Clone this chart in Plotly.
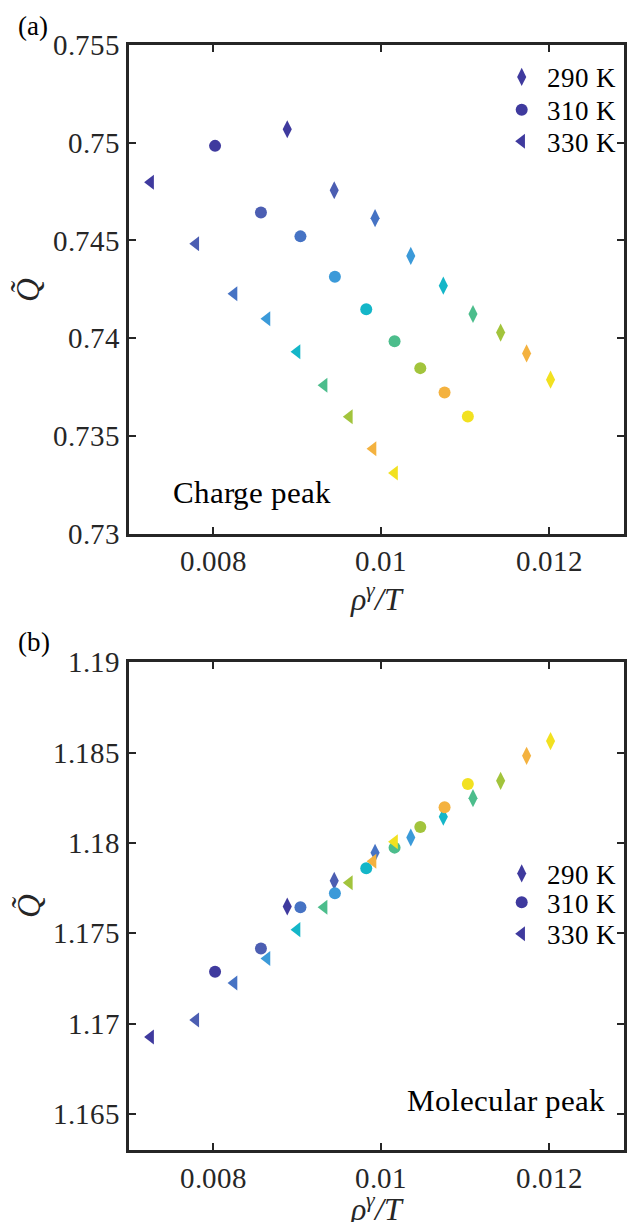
import base64
import glob
import json
import os

import plotly.graph_objects as go

# x values: rho^gamma / T for each temperature (9 states each)
x_290 = [0.008883, 0.009442, 0.009928, 0.010353, 0.01074, 0.011093, 0.011422, 0.011731, 0.012016]
x_310 = [0.008024, 0.00857, 0.00904, 0.00945, 0.009823, 0.01016, 0.010466, 0.010755, 0.011032]
x_330 = [0.007257, 0.007795, 0.00825, 0.008642, 0.0090, 0.009322, 0.009622, 0.009904, 0.01016]

# (a) Charge peak
qa_290 = [0.75069, 0.74757, 0.74614, 0.74421, 0.74269, 0.74124, 0.74029, 0.73922, 0.73788]
qa_310 = [0.74984, 0.74643, 0.74521, 0.74314, 0.74148, 0.73984, 0.73847, 0.73722, 0.73600]
qa_330 = [0.74798, 0.74483, 0.74228, 0.74100, 0.73931, 0.73759, 0.73598, 0.73434, 0.73310]

# (b) Molecular peak
qb_290 = [1.17648, 1.17790, 1.17945, 1.18030, 1.18145, 1.18248, 1.18344, 1.18482, 1.18564]
qb_310 = [1.17287, 1.17415, 1.17644, 1.17722, 1.17860, 1.17974, 1.18088, 1.18197, 1.18326]
qb_330 = [1.16925, 1.17020, 1.17224, 1.17360, 1.17520, 1.17644, 1.17779, 1.17899, 1.18006]

labels = ["290 K", "310 K", "330 K"]
point_colors = ["#3F3A9E", "#4C5EB2", "#4673C4", "#3B9AD9", "#14B6C8",
                "#4CBD8C", "#A2C43C", "#F4B23F", "#F2E120"]

x_ticks = [0.008, 0.01, 0.012]
x_ticktext = ["0.008", "0.01", "0.012"]
ya_ticks = [0.73, 0.735, 0.74, 0.745, 0.75, 0.755]
ya_ticktext = ["0.73", "0.735", "0.74", "0.745", "0.75", "0.755"]
yb_ticks = [1.165, 1.17, 1.175, 1.18, 1.185, 1.19]
yb_ticktext = ["1.165", "1.17", "1.175", "1.18", "1.185", "1.19"]


# --- embed the locally installed Liberation Serif so the page does not depend on font lookup ---
def find_font(name):
    for root in ["/usr/share/fonts", "/usr/local/share/fonts", os.path.expanduser("~/.fonts")]:
        hits = glob.glob(os.path.join(root, "**", name), recursive=True)
        if hits:
            return hits[0]
    return None


faces = []
for fname, style in [("LiberationSerif-Regular.ttf", "normal"), ("LiberationSerif-Italic.ttf", "italic")]:
    path = find_font(fname)
    if path:
        with open(path, "rb") as fh:
            b64 = base64.b64encode(fh.read()).decode("ascii")
        faces.append("@font-face{font-family:'EmbSerif';font-style:%s;font-weight:400;"
                     "src:url(data:font/ttf;base64,%s) format('truetype');}" % (style, b64))
font_css = "".join(faces)

FONT = "EmbSerif, Liberation Serif, Tinos, Times New Roman, serif"
AX = "#262626"

W, H = 627, 1222
ML, MR, MT, MB = 129, 3, 45, 72
PH = H - MT - MB  # plot area height in px


def py(p):
    """pixel row -> paper y fraction"""
    return (H - MB - p) / PH


def px(p):
    return (p - ML) / (W - ML - MR)


symbols = ["diamond-tall", "circle", "triangle-left"]
sizes = [13, 12, 13]

fig = go.Figure()

legend_rows_a = [77.4, 110.2, 141.7]
legend_rows_b = [873.9, 902.7, 934.2]
legend_names_a = ["legend", "legend2", "legend3"]
legend_names_b = ["legend4", "legend5", "legend6"]

for xs, ys, lab, sym, sz, lg in zip([x_290, x_310, x_330], [qa_290, qa_310, qa_330], labels,
                                    symbols, sizes, legend_names_a):
    fig.add_trace(go.Scatter(x=xs, y=ys, mode="markers", name=lab,
                             marker=dict(symbol=sym, size=sz, color=point_colors, line=dict(width=0)),
                             xaxis="x", yaxis="y", legend=lg))

for xs, ys, lab, sym, sz, lg in zip([x_290, x_310, x_330], [qb_290, qb_310, qb_330], labels,
                                    symbols, sizes, legend_names_b):
    fig.add_trace(go.Scatter(x=xs, y=ys, mode="markers", name=lab,
                             marker=dict(symbol=sym, size=sz, color=point_colors, line=dict(width=0)),
                             xaxis="x2", yaxis="y2", legend=lg))


def xaxis(anchor):
    return dict(range=[0.007, 0.01289], tickvals=x_ticks, ticktext=x_ticktext,
                ticks="inside", ticklen=7, tickwidth=2, tickcolor=AX,
                showline=True, linecolor=AX, linewidth=2.5, mirror="allticks",
                showgrid=False, zeroline=False, anchor=anchor, automargin=False,
                tickfont=dict(family=FONT, size=29, color=AX))


def yaxis(rng, tv, tt, dom, anchor):
    return dict(range=rng, tickvals=tv, ticktext=tt, domain=dom, anchor=anchor,
                ticks="inside", ticklen=7, tickwidth=2, tickcolor=AX,
                showline=True, linecolor=AX, linewidth=2.5, mirror="allticks",
                showgrid=False, zeroline=False, automargin=False,
                tickfont=dict(family=FONT, size=29, color=AX))


def legend_at(row):
    return dict(x=px(496.7), y=py(row), xanchor="left", yanchor="middle",
                font=dict(family=FONT, size=27, color="black"),
                bgcolor="rgba(0,0,0,0)", itemwidth=40)


xtitle = "<i>ρ</i><sup><i>γ</i></sup><i>/T</i>"
ytitle = "<i>Q̃</i>"

layout_legends = {}
for name, row in zip(legend_names_a + legend_names_b, legend_rows_a + legend_rows_b):
    layout_legends[name] = legend_at(row)

fig.update_layout(
    width=W, height=H,
    margin=dict(l=ML, r=MR, t=MT, b=MB, autoexpand=False),
    paper_bgcolor="white", plot_bgcolor="white",
    font=dict(family=FONT),
    showlegend=True,
    xaxis=xaxis("y"),
    xaxis2=xaxis("y2"),
    yaxis=yaxis([0.73, 0.755], ya_ticks, ya_ticktext, [py(533.7), 1.0], "x"),
    yaxis2=yaxis([1.163, 1.19], yb_ticks, yb_ticktext, [0.0, py(662.3)], "x2"),
    annotations=[
        dict(text="(a)", xref="paper", yref="paper", x=px(32.5), y=py(26),
             xanchor="center", yanchor="middle", showarrow=False,
             font=dict(family=FONT, size=27, color="black")),
        dict(text="(b)", xref="paper", yref="paper", x=px(33.5), y=py(642),
             xanchor="center", yanchor="middle", showarrow=False,
             font=dict(family=FONT, size=27, color="black")),
        dict(text="Charge peak", xref="paper", yref="paper", x=px(171.8), y=py(492),
             xanchor="left", yanchor="middle", showarrow=False,
             font=dict(family=FONT, size=31, color="black")),
        dict(text="Molecular peak", xref="paper", yref="paper", x=px(407), y=py(1100),
             xanchor="left", yanchor="middle", showarrow=False,
             font=dict(family=FONT, size=31, color="black")),
        dict(text=xtitle, xref="paper", yref="paper", x=px(376.5), y=py(597),
             xanchor="center", yanchor="middle", showarrow=False,
             font=dict(family=FONT, size=32, color=AX)),
        dict(text=xtitle, xref="paper", yref="paper", x=px(376.5), y=py(1207),
             xanchor="center", yanchor="middle", showarrow=False,
             font=dict(family=FONT, size=32, color=AX)),
        dict(text=ytitle, xref="paper", yref="paper", x=px(28), y=py(289.5), textangle=-90,
             xanchor="center", yanchor="middle", showarrow=False,
             font=dict(family=FONT, size=33, color=AX)),
        dict(text=ytitle, xref="paper", yref="paper", x=px(28), y=py(906), textangle=-90,
             xanchor="center", yanchor="middle", showarrow=False,
             font=dict(family=FONT, size=33, color=AX)),
    ],
    **layout_legends,
)

post = "window.__embcss = " + json.dumps(font_css) + ";\n" + """
document.body.style.margin='0';
document.body.style.overflow='hidden';
var gd = document.getElementById('{plot_id}');
if (window.__embcss) {
  var st = document.createElement('style');
  st.textContent = window.__embcss;
  document.head.appendChild(st);
}
if (document.fonts && document.fonts.load) {
  Promise.all([document.fonts.load("29px EmbSerif"), document.fonts.load("italic 29px EmbSerif")])
    .then(function(){ Plotly.redraw(gd); }, function(){ Plotly.redraw(gd); });
}
"""

fig.write_html("out.html", config={"displayModeBar": False}, post_script=post)
